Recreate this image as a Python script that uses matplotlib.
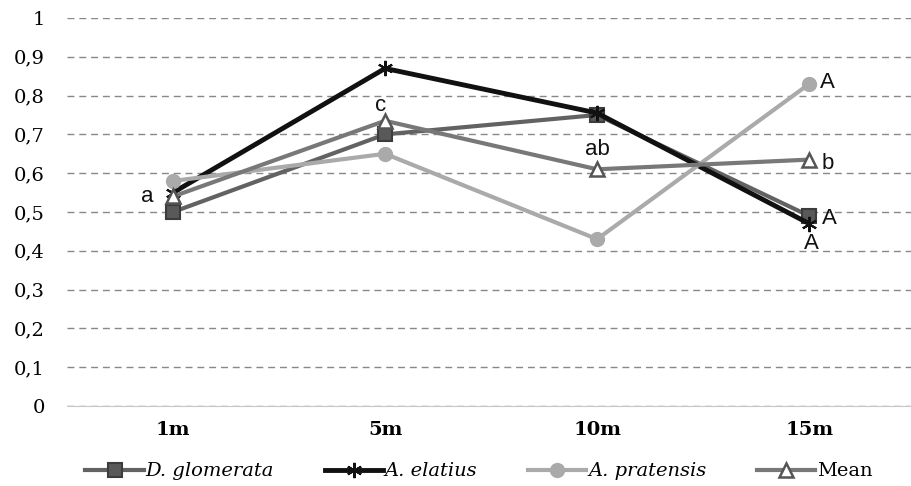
import matplotlib.pyplot as plt
import numpy as np

# data
distances = ["1m", "5m", "10m", "15m"]
glomerata = [0.50, 0.70, 0.75, 0.49]
elatius = [0.55, 0.87, 0.755, 0.47]
pratensis = [0.58, 0.65, 0.43, 0.83]
mean = [0.54, 0.735, 0.61, 0.635]
yticks = [0, 0.1, 0.2, 0.3, 0.4, 0.5, 0.6, 0.7, 0.8, 0.9, 1]

fig = plt.figure(figsize=(9.12, 4.86), dpi=100)
ax = fig.add_axes([0.0735, 0.1646, 0.93, 0.7984])

x = np.arange(len(distances))

ax.plot(x, glomerata, color="#626262", lw=3, marker="s", ms=10,
        mfc="#595959", mec="#3c3c3c", mew=1.5, label="D. glomerata", zorder=3)
ax.plot(x, elatius, color="#111111", lw=3.5, marker=(6, 2, 0), ms=11,
        mec="#111111", mew=1.5, label="A. elatius", zorder=4)
ax.plot(x, pratensis, color="#aaaaaa", lw=3, marker="o", ms=10,
        mfc="#aaaaaa", mec="#aaaaaa", label="A. pratensis", zorder=5)
ax.plot(x, mean, color="#787878", lw=3, marker="^", ms=10,
        mfc="white", mec="#555555", mew=1.8, label="Mean", zorder=6)

# letters
txt = dict(fontsize=16, family="Liberation Sans", color="#111111",
           va="center", zorder=10)
ax.text(x[0] - 0.12, mean[0], "a", ha="center", **txt)
ax.text(x[1] - 0.02, mean[1] + 0.04, "c", ha="center", **txt)
ax.text(x[2], mean[2] + 0.05, "ab", ha="center", **txt)
ax.text(x[3] + 0.06, mean[3] - 0.009, "b", ha="left", **txt)
ax.text(x[3] + 0.05, pratensis[3] + 0.003, "A", ha="left", **txt)
ax.text(x[3] + 0.06, glomerata[3] - 0.008, "A", ha="left", **txt)
ax.text(x[3] + 0.01, elatius[3] - 0.05, "A", ha="center", **txt)

ax.set_xlim(-0.5, 3.5)
ax.set_ylim(0, 1)
ax.set_yticks(yticks)
ax.set_yticklabels([("%g" % v).replace(".", ",") for v in yticks],
                   family="DejaVu Serif", fontsize=14)
ax.set_xticks(x)
ax.set_xticklabels(distances, family="DejaVu Serif", fontsize=14,
                   fontweight="bold")
ax.tick_params(length=0)
ax.tick_params(axis="x", pad=11)
ax.tick_params(axis="y", pad=16)

for s in ["top", "right", "left"]:
    ax.spines[s].set_visible(False)
ax.spines["bottom"].set_color("#c8c8c8")
ax.yaxis.grid(True, linestyle=(0, (5, 3.5)), color="#888888", lw=1)
ax.set_axisbelow(True)

leg = ax.legend(loc="upper center", bbox_to_anchor=(0.486, -0.1), ncol=4,
                frameon=False, handlelength=3.0, columnspacing=2.6,
                handletextpad=0.1,
                prop={"family": "DejaVu Serif", "size": 14})
for t in leg.get_texts()[:3]:
    t.set_style("italic")

fig.savefig("out.png", dpi=100)
